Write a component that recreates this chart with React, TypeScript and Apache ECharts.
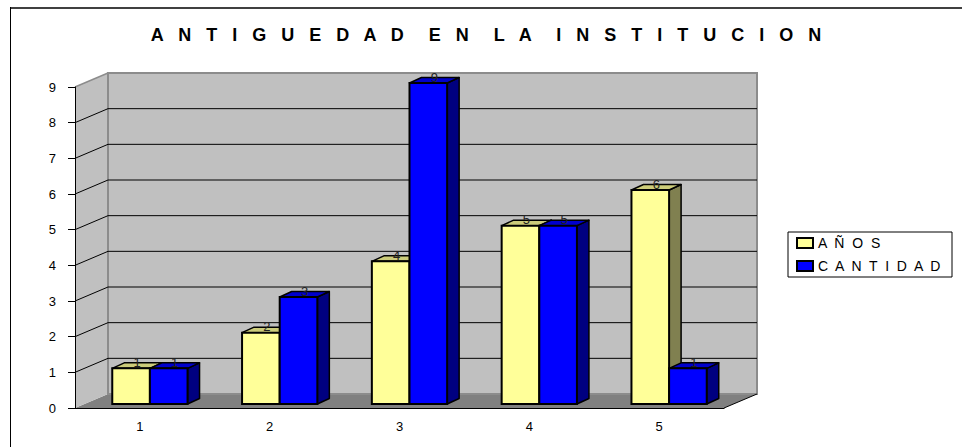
import React, { useEffect, useRef } from "react";
import * as echarts from "echarts";

const categories = ["1", "2", "3", "4", "5"];
const anos = [1, 2, 4, 5, 6];
const cantidad = [1, 3, 9, 5, 1];
const yTicks = [0, 1, 2, 3, 4, 5, 6, 7, 8, 9];
const seriesNames = ["A  Ñ  O  S", "C  A  N  T  I  D  A  D"];
const titleWords = ["ANTIGUEDAD", "EN", "LA", "INSTITUCION"];

const FONT = '"Liberation Sans", Arial, sans-serif';
const WALL_DEPTH = [33, -14];
const BAR_OFF = [10, -4];
const BAR_DEPTH = [12, -5.5];
const BAR_FRAC = 0.29;

const palettes = [
  { front: "#FFFF99", top: "#CCCC7A", side: "#808050" },
  { front: "#0000FF", top: "#0000CC", side: "#000080" },
];

function barRenderer(idx: number) {
  const colors = palettes[idx];
  return (params: any, api: any) => {
    const ci = api.value(0);
    const v = api.value(1);
    const base = api.coord([ci, 0]);
    const top = api.coord([ci, v]);
    const band = api.size([1, 0])[0];
    const w = band * BAR_FRAC;
    const xl = base[0] + BAR_OFF[0] - w + idx * w;
    const yb = base[1] + BAR_OFF[1];
    const yt = top[1] + BAR_OFF[1];
    const [dx, dy] = BAR_DEPTH;
    return {
      type: "group",
      children: [
        {
          type: "polygon",
          shape: { points: [[xl + w, yt], [xl + w + dx, yt + dy], [xl + w + dx, yb + dy], [xl + w, yb]] },
          style: { fill: colors.side, stroke: "#000", lineWidth: 1.5, lineJoin: "round" },
        },
        {
          type: "polygon",
          shape: { points: [[xl, yt], [xl + dx, yt + dy], [xl + w + dx, yt + dy], [xl + w, yt]] },
          style: { fill: colors.top, stroke: "#000", lineWidth: 1.5, lineJoin: "round" },
        },
        {
          type: "rect",
          shape: { x: xl, y: yt, width: w, height: yb - yt },
          style: { fill: colors.front, stroke: "#000", lineWidth: 2 },
        },
        {
          type: "text",
          x: xl + w / 2 + dx / 2,
          y: yt + dy / 2 - 3,
          z2: 10,
          style: { text: String(v), fill: "#222", font: `13px ${FONT}`, align: "center", verticalAlign: "middle" },
        },
      ],
    };
  };
}

export default function App() {
  const ref = useRef<HTMLDivElement>(null);
  useEffect(() => {
    document.body.style.margin = "0";
    const chart = echarts.init(ref.current!, undefined, { renderer: "svg" });
    const [DX, DY] = WALL_DEPTH;
    const titleText = titleWords.map((w) => w.split("").join("   ")).join("     ");
    const option: any = {
      animation: false,
      backgroundColor: "#fff",
      title: {
        text: titleText,
        left: 486,
        top: 26,
        padding: 0,
        textAlign: "center",
        textStyle: { fontSize: 18, fontWeight: "bold", fontFamily: FONT, color: "#000" },
      },
      legend: {
        data: seriesNames,
        orient: "vertical",
        left: 788,
        top: 232,
        itemWidth: 16,
        itemHeight: 10,
        itemGap: 9,
        padding: [4, 8, 4, 8],
        borderColor: "#000",
        borderWidth: 1,
        icon: "rect",
        itemStyle: { borderColor: "#000", borderWidth: 2 },
        textStyle: { fontFamily: FONT, fontSize: 14, color: "#000", lineHeight: 14 },
      },
      graphic: [
        { type: "line", shape: { x1: 10, y1: 8, x2: 962, y2: 8 }, style: { stroke: "#404040", lineWidth: 2 } },
        { type: "line", shape: { x1: 10.5, y1: 7, x2: 10.5, y2: 447 }, style: { stroke: "#000", lineWidth: 1 } },
      ],
      grid: { left: 75, top: 87, width: 649, height: 321 },
      xAxis: {
        type: "category",
        data: categories,
        z: 10,
        axisLine: { lineStyle: { color: "#000", width: 1 } },
        axisTick: { length: 5, lineStyle: { color: "#000" } },
        axisLabel: { fontFamily: FONT, fontSize: 13, color: "#000", margin: 12 },
        splitLine: { show: false },
      },
      yAxis: {
        type: "value",
        min: 0,
        max: 9,
        interval: 1,
        z: 10,
        axisLine: { show: true, lineStyle: { color: "#000", width: 1 } },
        axisTick: { show: true, length: 7, lineStyle: { color: "#000" } },
        axisLabel: { fontFamily: FONT, fontSize: 13, color: "#000", margin: 19 },
        splitLine: { show: false },
      },
      series: [
        {
          type: "custom",
          name: "walls",
          silent: true,
          data: [[0, 0]],
          renderItem: (params: any) => {
            const cs = params.coordSys;
            const L = cs.x, T = cs.y, R = cs.x + cs.width, B = cs.y + cs.height;
            return {
              type: "group",
              children: [
                {
                  type: "polygon",
                  shape: { points: [[L, B], [L + DX, B + DY], [R + DX, B + DY], [R, B]] },
                  style: { fill: "#808080" },
                },
                {
                  type: "polygon",
                  shape: { points: [[L, T], [L + DX, T + DY], [L + DX, B + DY], [L, B]] },
                  style: { fill: "#C0C0C0" },
                },
                {
                  type: "rect",
                  shape: { x: L + DX, y: T + DY, width: R - L, height: B - T },
                  style: { fill: "#C0C0C0", stroke: "#8c8c8c", lineWidth: 2 },
                },
                {
                  type: "line",
                  shape: { x1: L, y1: T, x2: L + DX, y2: T + DY },
                  style: { stroke: "#8c8c8c", lineWidth: 1.5 },
                },
                {
                  type: "line",
                  shape: { x1: R, y1: B, x2: R + DX, y2: B + DY },
                  style: { stroke: "#000", lineWidth: 1 },
                },
              ],
            };
          },
        },
        {
          type: "custom",
          name: "grid",
          silent: true,
          data: yTicks.slice(1, -1).map((v) => [0, v]),
          renderItem: (params: any, api: any) => {
            const cs = params.coordSys;
            const L = cs.x, R = cs.x + cs.width;
            const y = api.coord([0, api.value(1)])[1];
            return {
              type: "group",
              children: [
                { type: "line", shape: { x1: L, y1: y, x2: L + DX, y2: y + DY }, style: { stroke: "#000", lineWidth: 1 } },
                { type: "line", shape: { x1: L + DX, y1: y + DY, x2: R + DX, y2: y + DY }, style: { stroke: "#000", lineWidth: 1 } },
              ],
            };
          },
        },
        {
          type: "custom",
          name: seriesNames[0],
          data: anos.map((v, i) => [i, v]),
          encode: { x: 0, y: 1 },
          itemStyle: { color: palettes[0].front, borderColor: "#000", borderWidth: 2 },
          renderItem: barRenderer(0),
        },
        {
          type: "custom",
          name: seriesNames[1],
          data: cantidad.map((v, i) => [i, v]),
          encode: { x: 0, y: 1 },
          itemStyle: { color: palettes[1].front, borderColor: "#000", borderWidth: 2 },
          renderItem: barRenderer(1),
        },
      ],
    };
    chart.setOption(option);
    return () => chart.dispose();
  }, []);
  return <div ref={ref} style={{ position: "absolute", left: 0, top: 0, width: 962, height: 447 }} />;
}
